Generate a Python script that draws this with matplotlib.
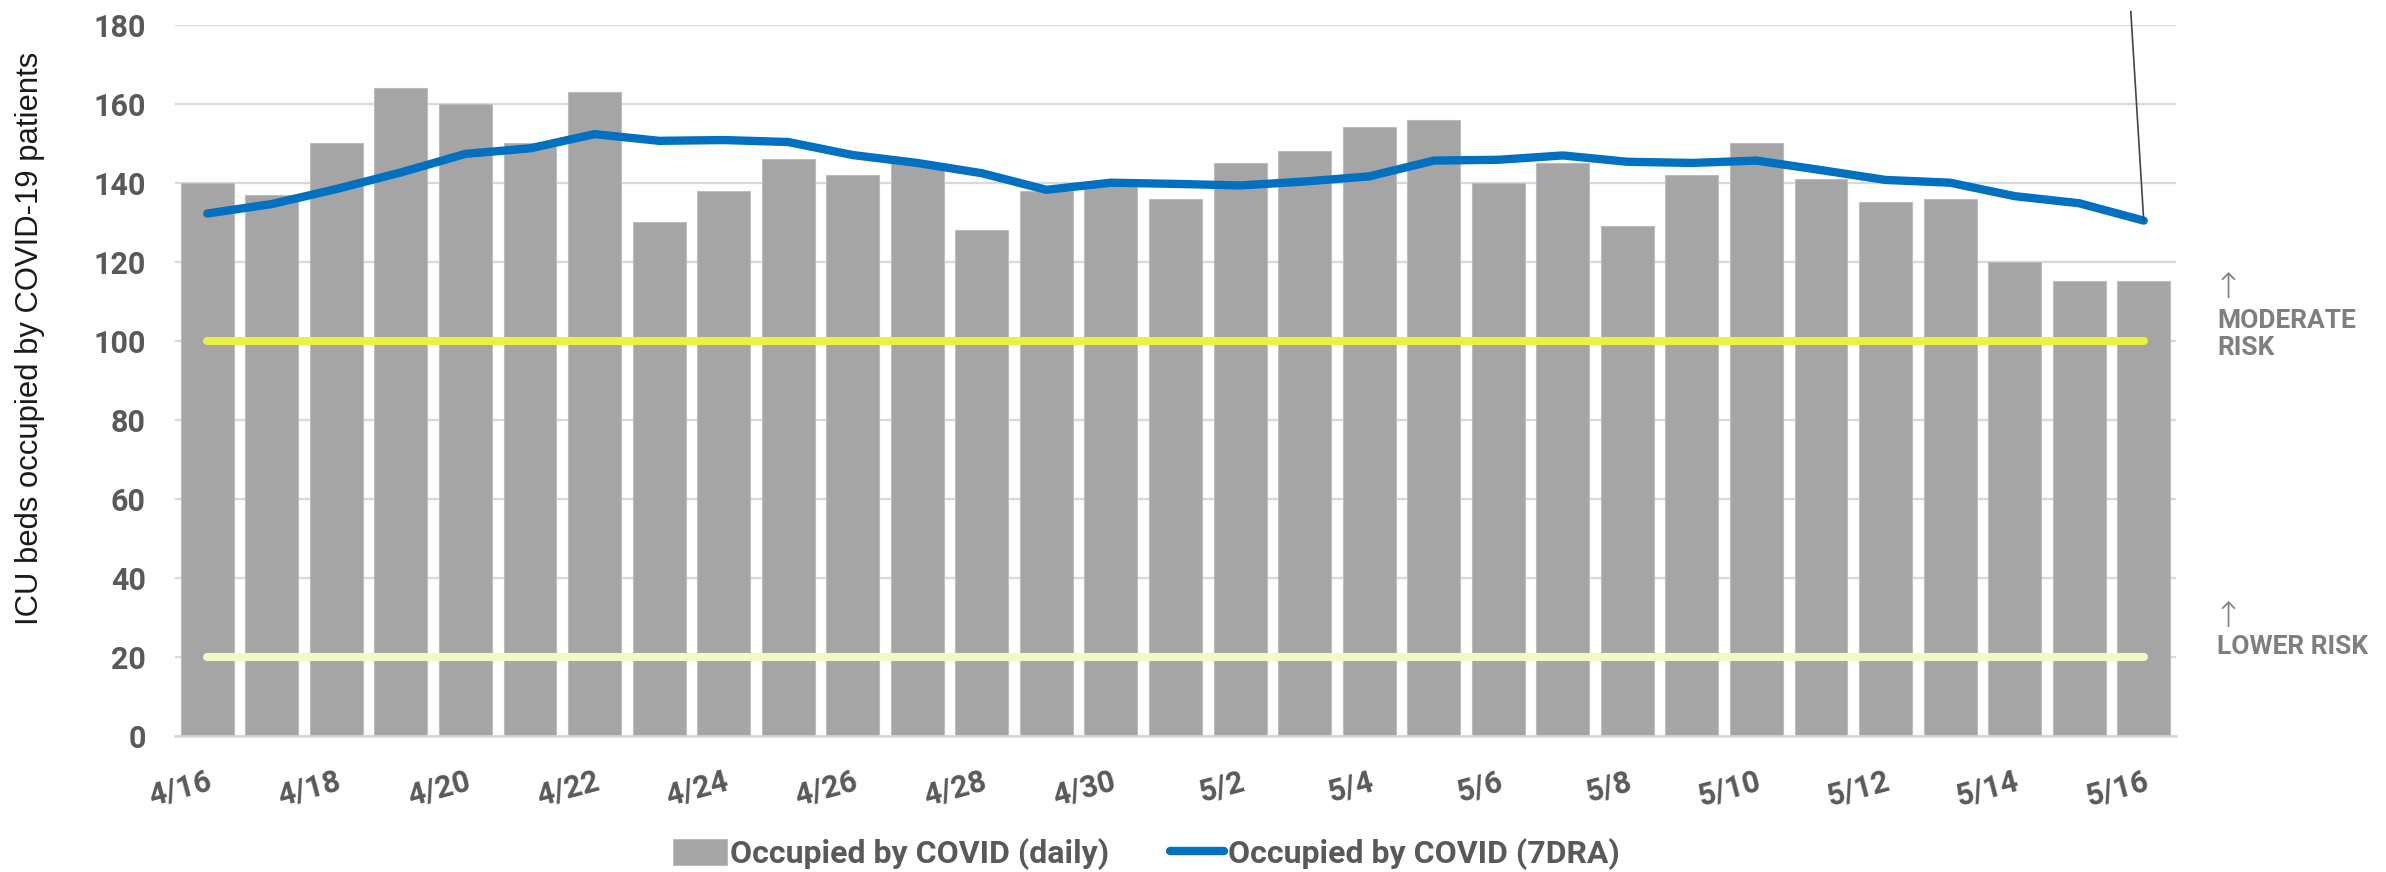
import matplotlib
matplotlib.use("Agg")
import matplotlib.pyplot as plt
import numpy as np

# ---- data ----
dates = ['4/16', '4/17', '4/18', '4/19', '4/20', '4/21', '4/22', '4/23', '4/24', '4/25',
         '4/26', '4/27', '4/28', '4/29', '4/30', '5/1', '5/2', '5/3', '5/4', '5/5',
         '5/6', '5/7', '5/8', '5/9', '5/10', '5/11', '5/12', '5/13', '5/14', '5/15', '5/16']
daily = [140, 137, 150, 164, 160, 150, 163, 130, 138, 146,
         142, 145, 128, 138, 140, 136, 145, 148, 154, 156,
         140, 145, 129, 142, 150, 141, 135, 136, 120, 115, 115]
avg7 = [132.2, 134.6, 138.4, 142.6, 147.3, 148.7, 152.3, 150.6, 150.8, 150.3,
        147.0, 145.0, 142.4, 138.2, 140.0, 139.7, 139.3, 140.3, 141.6, 145.6,
        145.8, 146.9, 145.3, 145.0, 145.6, 143.2, 140.7, 140.0, 136.6, 134.8, 130.4]
moderate_level = 100
lower_level = 20
yticks = [0, 20, 40, 60, 80, 100, 120, 140, 160, 180]
risk_labels = ["MODERATE\nRISK", "LOWER RISK"]
legend_labels = ["Occupied by COVID (daily)", "Occupied by COVID (7DRA)"]
ylabel = "ICU beds occupied by COVID-19 patients"

W, H = 2386, 872
fig = plt.figure(figsize=(W / 100, H / 100), dpi=100)
ax = fig.add_axes([175 / W, 1 - 735.7 / H, (2176 - 175) / W, (735.7 - 24.7) / H])

x = np.arange(len(dates))
bars = ax.bar(x, daily, width=0.82, color='#A5A5A5', edgecolor='#BDBDBD', linewidth=0.8,
              zorder=2, label=legend_labels[0])
ax.plot([x[0], x[-1]], [moderate_level, moderate_level], color='#EBF043', lw=5.8,
        solid_capstyle='round', zorder=3)
ax.plot([x[0], x[-1]], [lower_level, lower_level], color='#F3F8C6', lw=5.8,
        solid_capstyle='round', zorder=3)
line, = ax.plot(x, avg7, color='#0070C0', lw=6, solid_capstyle='round',
                solid_joinstyle='round', zorder=4, label=legend_labels[1])

# leader line
ax.plot([x[-1] - 0.2, x[-1]], [183.3, avg7[-1]], color='#3F4650', lw=1.2,
        clip_on=False, zorder=5)

ax.set_xlim(-0.5, len(dates) - 0.5)
ax.set_ylim(0, 180)
ax.set_yticks(yticks)
ax.yaxis.grid(True, color='#D9D9D9', lw=1.6, zorder=0)
ax.set_axisbelow(True)
for s in ['top', 'right', 'left']:
    ax.spines[s].set_visible(False)
ax.spines['bottom'].set_color('#D9D9D9')
ax.spines['bottom'].set_linewidth(1.8)

tick_font = dict(family='Roboto', weight='bold', size=22, color='#595959')
ax.set_yticklabels([str(v) for v in yticks], **tick_font)
ax.tick_params(axis='y', length=0, pad=21)
ax.set_xticks(x[::2])
ax.set_xticklabels(dates[::2], rotation=15, ha='right', va='top', rotation_mode='anchor',
                   **tick_font)
ax.tick_params(axis='x', length=0, pad=22)

fig.text(30 / W, 1 - 338 / H, ylabel, rotation=90, ha='center', va='center',
         family='Liberation Sans', size=22.3, color='#1A1A1A')

# risk labels
risk_font = dict(family='Roboto', weight='bold', size=19, color='#7F7F7F')
arrow_font = dict(family=['Roboto', 'DejaVu Sans'], size=25, color='#7F7F7F',
                  weight='light')
fig.text(2213 / W, 1 - 288 / H, "\u2191", ha='left', va='center', **arrow_font)
fig.text(2217 / W, 1 - 309 / H, risk_labels[0], ha='left', va='top', linespacing=1.15,
         **risk_font)
fig.text(2213 / W, 1 - 617 / H, "\u2191", ha='left', va='center', **arrow_font)
fig.text(2217 / W, 1 - 635 / H, risk_labels[1], ha='left', va='top', **risk_font)

leg = fig.legend(handles=[bars, line], labels=legend_labels, loc='center',
                 bbox_to_anchor=(1146 / W, 1 - 854 / H), ncol=2, frameon=False,
                 prop=dict(family='Roboto', weight='bold', size=23),
                 handlelength=1.7, handleheight=0.9, handletextpad=0.1,
                 columnspacing=1.9, labelcolor='#595959')

fig.savefig('out.png', dpi=100, facecolor='white')
